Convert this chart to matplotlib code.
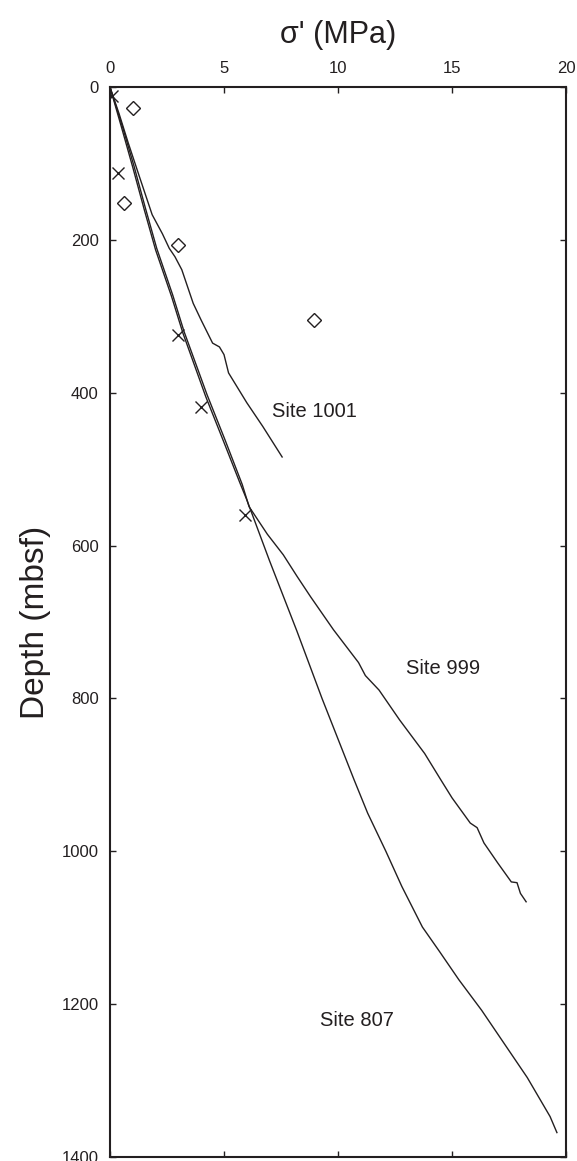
import numpy as np
import matplotlib
matplotlib.use("Agg")
from matplotlib import pyplot as plt

# effective stress (MPa) vs depth (mbsf)
s807 = [0, 0.5, 1.0, 1.5, 2.0, 2.7, 3.2, 4.2, 5.0, 5.7, 6.0, 7.0, 8.2, 9.3, 10.7,
        11.3, 12.1, 12.8, 13.7, 14.45, 15.3, 16.3, 17.3, 18.3, 19.3, 19.6]
d807 = [0, 52, 105, 160, 213, 274, 322, 405, 465, 518, 540, 620, 712, 800, 906,
        950, 1000, 1046, 1099, 1131, 1168, 1208, 1252, 1296, 1347, 1368]

s999 = [0, 0.55, 1.05, 1.55, 2.05, 2.75, 3.25, 4.25, 5.05, 5.8, 6.1, 6.9, 7.6, 8.2,
        8.8, 9.8, 10.9, 11.2, 11.8, 12.7, 13.8, 14.5, 15.0, 15.8, 16.1, 16.4,
        17.0, 17.6, 17.85, 18.0, 18.25]
d999 = [0, 52, 103, 158, 211, 272, 320, 402, 462, 520, 549, 585, 612, 640,
        667, 710, 753, 770, 789, 828, 872, 906, 930, 963, 969, 989,
        1015, 1040, 1041, 1055, 1066]

s1001 = [0, 0.4, 0.8, 1.3, 1.85, 2.3, 2.6, 2.85, 3.15, 3.65, 4.0, 4.5, 4.8,
         5.0, 5.2, 6.0, 6.7, 7.55]
d1001 = [0, 35, 73, 118, 167, 192, 211, 222, 239, 283, 305, 335, 340,
         350, 374, 413, 444, 484]

# measured points
diam_s = [1.0, 0.6, 3.0, 8.95]
diam_d = [28, 152, 207, 305]
cross_s = [0.07, 0.35, 3.0, 3.98, 5.9]
cross_d = [12, 113, 324, 418, 560]

site_labels = ['Site 1001', 'Site 999', 'Site 807']
label_s = [8.98, 14.6, 10.83]
label_d = [424, 761, 1221]

plt.rcParams['font.family'] = ['Liberation Sans', 'DejaVu Sans']
ink = '#231f20'

fig = plt.figure(figsize=(5.77, 11.61), dpi=100)
ax = fig.add_axes([0.1906, 0.0034, 0.7904, 0.9216])

ax.plot(s807, d807, color=ink, lw=1.0)
ax.plot(s999, d999, color=ink, lw=1.0)
ax.plot(s1001, d1001, color=ink, lw=1.0)
ax.plot(diam_s, diam_d, ls='none', marker='D', ms=7.5, mfc='white',
        mec=ink, mew=1.0)
ax.plot(cross_s, cross_d, ls='none', marker='x', ms=9, color=ink, mew=1.0)

for t, x, y in zip(site_labels, label_s, label_d):
    ax.text(x, y, t, fontsize=14.5, color=ink, ha='center', va='center')

ax.set_xlim(0, 20)
ax.set_ylim(1400, 0)
ax.set_xticks([0, 5, 10, 15, 20])
ax.set_yticks(range(0, 1401, 200))
ax.xaxis.tick_top()
ax.xaxis.set_label_position('top')
ax.tick_params(direction='in', length=4, width=1, top=True, bottom=True,
               left=True, right=True, labelsize=12, colors=ink, pad=8)
ax.set_xlabel("σ' (MPa)", fontsize=22, color=ink, labelpad=13)
ax.set_ylabel('Depth (mbsf)', fontsize=24, color=ink, labelpad=8)
for sp in ax.spines.values():
    sp.set_linewidth(1.5)
    sp.set_color(ink)

fig.savefig('out.png', dpi=100)
